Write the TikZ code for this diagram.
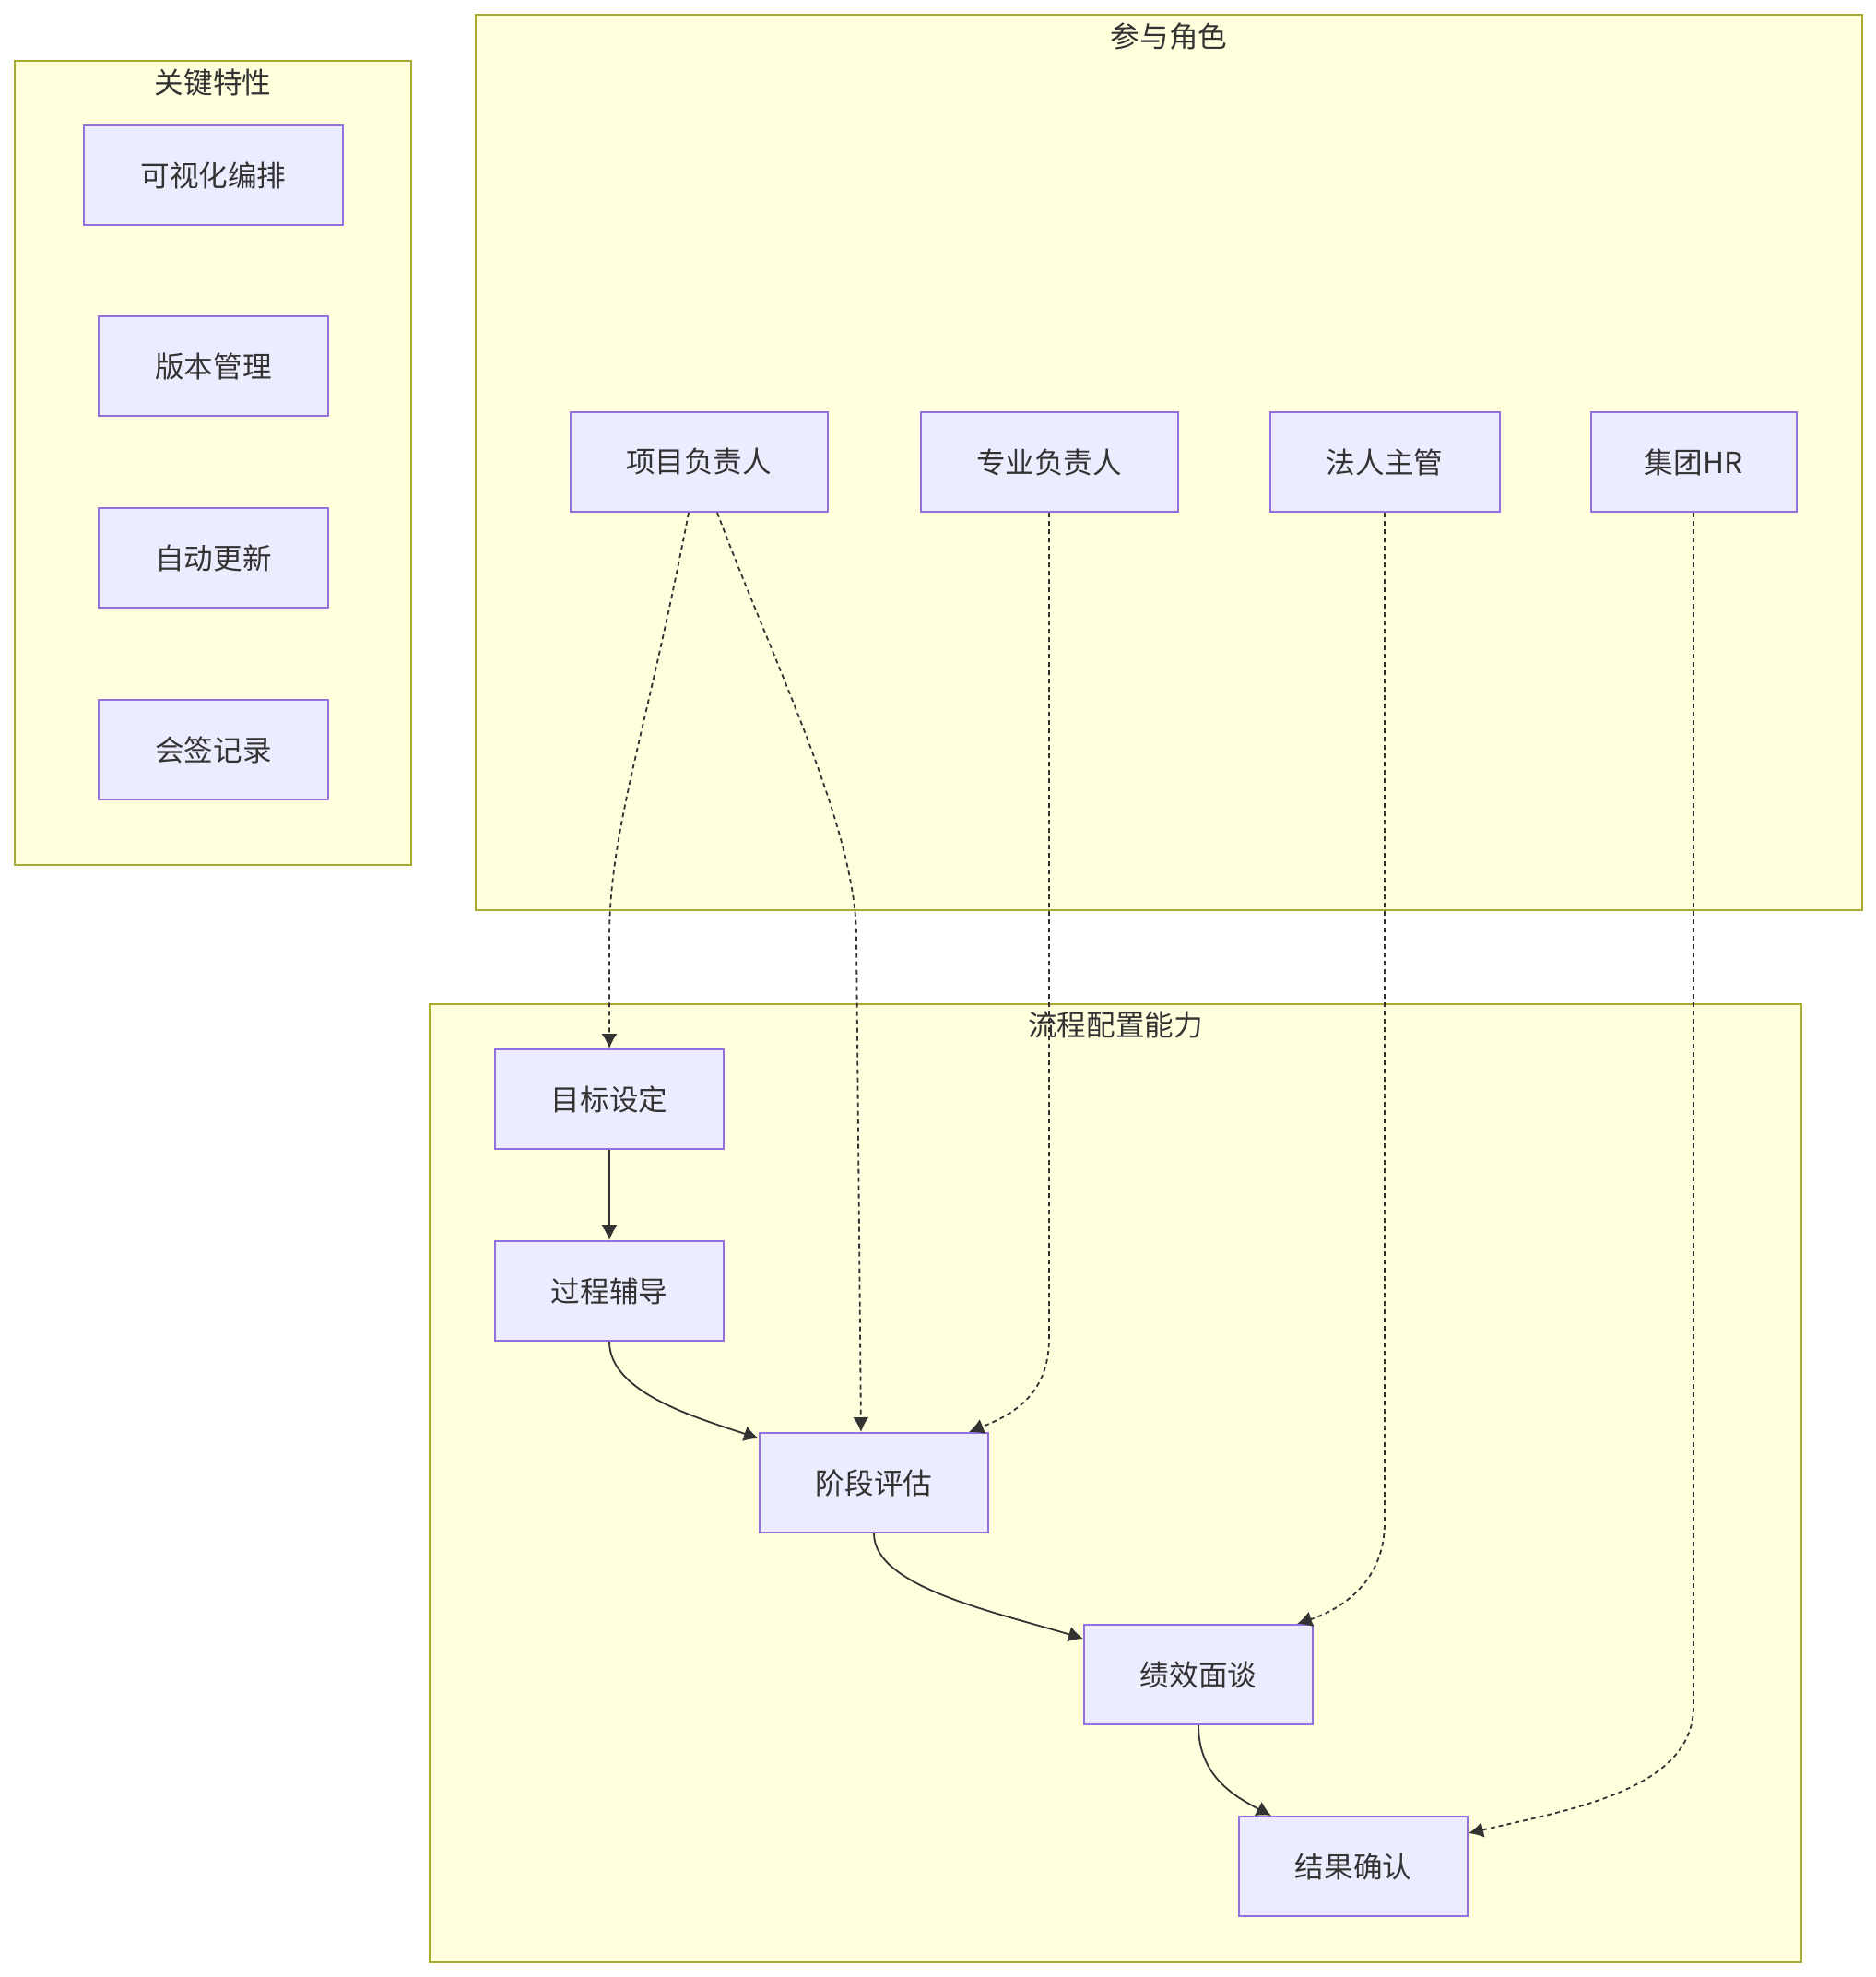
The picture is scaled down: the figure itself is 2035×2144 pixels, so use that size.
\documentclass[tikz,border=0pt]{standalone}
\usepackage{fontspec}
\setmainfont{Noto Sans CJK SC}
\usetikzlibrary{arrows.meta,calc}
\definecolor{grpfill}{HTML}{FFFFDE}
\definecolor{grpline}{HTML}{AAAA33}
\definecolor{boxfill}{HTML}{ECECFF}
\definecolor{boxline}{HTML}{9370DB}
\definecolor{ink}{HTML}{333333}
\tikzset{
 box/.style={draw=boxline,fill=boxfill,line width=1pt,text=ink,minimum height=54pt,inner sep=0pt},
 grp/.style={draw=grpline,fill=grpfill,line width=1pt},
 flow/.style={-{Latex[length=8pt,width=8.5pt]},line width=0.9pt,color=ink},
 role/.style={flow,dash pattern=on 2.5pt off 2pt},
}
\begin{document}
\begin{tikzpicture}[x=0.5pt,y=-0.5pt,font=\fontsize{15.8}{18}\selectfont]
\useasboundingbox (0,0) rectangle (2035,2144);

%key features
\draw[grp] (16,66) rectangle (446,938);
\node[text=ink] (kft) at (231,90) {关键特性};
\node[box,minimum width=140.5pt] (kf1) at (231.5,190) {可视化编排};
\foreach \y/\n/\t in {397/kf2/版本管理,605/kf3/自动更新,813/kf4/会签记录}{
 \node[box,minimum width=124.5pt] (\n) at (231.5,\y) {\t};
}

%roles
\draw[grp] (516,16) rectangle (2020,987);
\node[text=ink] (rlt) at (1268,40) {参与角色};
\node[box,minimum width=139.5pt] (r1) at (758,501) {项目负责人};
\node[box,minimum width=139.5pt] (r2) at (1138,501) {专业负责人};
\node[box,minimum width=124.5pt] (r3) at (1502,501) {法人主管};
\node[box,minimum width=111.5pt] (r4) at (1837,501) {集团HR};

%process configuration
\draw[grp] (466,1089) rectangle (1954,2128);
\node[text=ink] (pct) at (1210,1112) {流程配置能力};
\foreach \x/\y/\n/\t in {661/1192/p1/目标设定,661/1400/p2/过程辅导,948/1608/p3/阶段评估,1300/1816/p4/绩效面谈,1468/2024/p5/结果确认}{
 \node[box,minimum width=124pt] (\n) at (\x,\y) {\t};
}

%process flow
\draw[flow] (p1) -- (p2);
\draw[flow] (p2.south) .. controls +(0,56) and +(-65,-22) .. ($(p3.north west)+(0,7)$);
\draw[flow] (p3.south) .. controls +(0,58) and +(-96,-29) .. ($(p4.north west)+(0,16)$);
\draw[flow] (p4.south) .. controls +(0,55) and +(-40,-21) .. ($(p5.north west)+(36,0)$);

%role links
\draw[role] ($(r1.south)+(-11,0)$) .. controls +(-47,245) and +(0,-119) .. ($(p1.north)+(0,-119)$) -- (p1.north);
\draw[role] ($(r1.south)+(20,0)$) .. controls +(62,165) and +(0,-119) .. ($(p3.north)+(-19,-536)$) -- ($(p3.north)+(-14,0)$);
\draw[role] (r2.south) -- ($(r2.south)+(0,895)$) .. controls +(0,60) and +(50,-20) .. ($(p3.north east)+(-22,0)$);
\draw[role] (r3.south) -- ($(r3.south)+(0,1095)$) .. controls +(0,60) and +(54,-18) .. ($(p4.north east)+(-18,0)$);
\draw[role] (r4.south) -- ($(r4.south)+(0,1295)$) .. controls +(0,90) and +(108,-25) .. ($(p5.north east)+(0,19)$);

\end{tikzpicture}
\end{document}
